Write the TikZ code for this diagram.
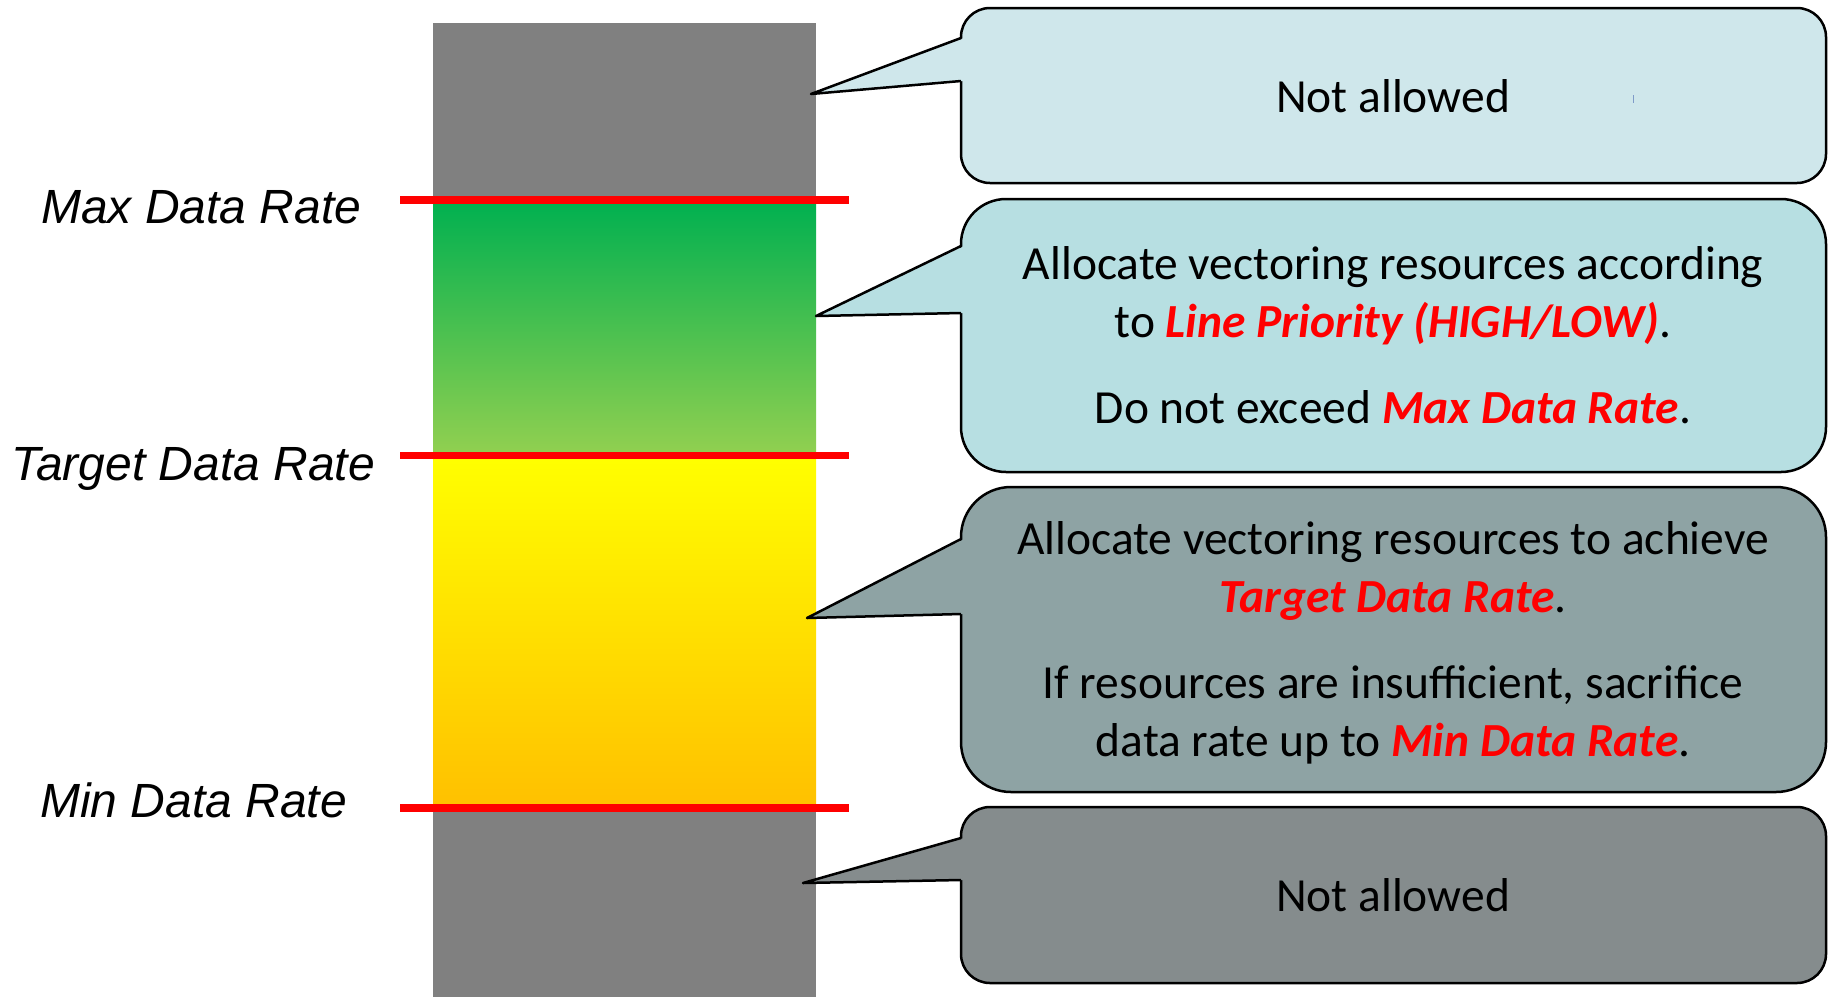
\documentclass[tikz,border=0pt]{standalone}
\usepackage{fontspec}
\setmainfont{Carlito}
\newfontfamily\labelfont{Liberation Sans}
\usetikzlibrary{calc}

\definecolor{zonegray}{HTML}{808080}
\definecolor{greentop}{HTML}{00B050}
\definecolor{greenbot}{HTML}{92D050}
\definecolor{yellowtop}{HTML}{FFFF00}
\definecolor{yellowbot}{HTML}{FFC000}
\definecolor{limitred}{HTML}{FF0000}
\definecolor{calloutA}{HTML}{CFE7EB}
\definecolor{calloutB}{HTML}{B7DFE2}
\definecolor{calloutC}{HTML}{8EA3A4}
\definecolor{calloutD}{HTML}{858C8D}
\definecolor{caretblue}{HTML}{7F9BC8}

\newcommand\hl[1]{\textcolor{limitred}{\bfseries\itshape #1}}

\tikzset{
  ratelabel/.style={font=\labelfont\itshape\fontsize{48}{57}\selectfont, inner sep=0pt, anchor=base west},
  limitline/.style={draw=limitred, line width=7.5pt},
  calloutbox/.style={draw=black, line width=2.5pt, inner sep=0pt},
  wedgeline/.style={draw=black, line width=2.5pt, line join=round},
  callouttext/.style={font=\fontsize{47.5}{58}\selectfont, inner sep=0pt, anchor=base}
}

\begin{document}
\begin{tikzpicture}[x=1pt,y=-1pt]
\useasboundingbox (0,0) rectangle (1831,997);

% --- data-rate bar ---
\fill[zonegray] (433,23) rectangle (816,200);
\shade[top color=greentop, bottom color=greenbot] (433,200) rectangle (816,455);
\shade[top color=yellowtop, bottom color=yellowbot] (433,455) rectangle (816,808);
\fill[zonegray] (433,808) rectangle (816,997);

% --- limit lines ---
\coordinate (maxL) at (400,200);    \coordinate (maxR) at (849,200);
\coordinate (tgtL) at (400,455.5);  \coordinate (tgtR) at (849,455.5);
\coordinate (minL) at (400,808);    \coordinate (minR) at (849,808);
\draw[limitline] (maxL) -- (maxR);
\draw[limitline] (tgtL) -- (tgtR);
\draw[limitline] (minL) -- (minR);

% --- limit labels ---
\node[ratelabel] (maxlbl) at (41,223) {Max Data Rate};
\node[ratelabel] (tgtlbl) at (11,480) {Target Data Rate};
\node[ratelabel] (minlbl) at (40,817) {Min Data Rate};

% --- callout bodies ---
\node[calloutbox, fill=calloutA, rounded corners=29pt, minimum width=865pt, minimum height=175pt] (box1) at (1393.5,95.5) {};
\node[calloutbox, fill=calloutB, rounded corners=45pt, minimum width=865pt, minimum height=273pt] (box2) at (1393.5,335.5) {};
\node[calloutbox, fill=calloutC, rounded corners=50pt, minimum width=865pt, minimum height=305pt] (box3) at (1393.5,639.5) {};
\node[calloutbox, fill=calloutD, rounded corners=29pt, minimum width=865pt, minimum height=176pt] (box4) at (1393.5,895) {};

% --- callout pointers ---
\coordinate (t1) at (811,94);  \coordinate (u1) at (961,38);  \coordinate (l1) at (961,81);
\coordinate (t2) at (816,316); \coordinate (u2) at (961,246); \coordinate (l2) at (961,313);
\coordinate (t3) at (807,618); \coordinate (u3) at (961,539); \coordinate (l3) at (961,614);
\coordinate (t4) at (803,883); \coordinate (u4) at (961,838); \coordinate (l4) at (961,880);

\fill[calloutA] (t1) -- ([xshift=3pt]u1) -- ([xshift=3pt]l1) -- cycle;
\fill[calloutB] (t2) -- ([xshift=3pt]u2) -- ([xshift=3pt]l2) -- cycle;
\fill[calloutC] (t3) -- ([xshift=3pt]u3) -- ([xshift=3pt]l3) -- cycle;
\fill[calloutD] (t4) -- ([xshift=3pt]u4) -- ([xshift=3pt]l4) -- cycle;
\draw[wedgeline] (u1) -- (t1) -- (l1);
\draw[wedgeline] (u2) -- (t2) -- (l2);
\draw[wedgeline] (u3) -- (t3) -- (l3);
\draw[wedgeline] (u4) -- (t4) -- (l4);

% --- callout texts ---
\node[callouttext] (txt1) at (1393,112) {Not allowed};
\draw[caretblue, line width=1pt] (1633,95) -- (1633,103);

\node[callouttext] (txt2a) at (1393,279) {Allocate vectoring resources according};
\node[callouttext] (txt2b) at (1393,337) {to \hl{Line Priority (HIGH/LOW)}.};
\node[callouttext] (txt2c) at (1393,423) {Do not exceed \hl{Max Data Rate}.};

\node[callouttext] (txt3a) at (1393,554) {Allocate vectoring resources to achieve};
\node[callouttext] (txt3b) at (1393,612) {\hl{Target Data Rate}.};
\node[callouttext] (txt3c) at (1393,698) {If resources are insufficient, sacrifice};
\node[callouttext] (txt3d) at (1393,756) {data rate up to \hl{Min Data Rate}.};

\node[callouttext] (txt4) at (1393,911) {Not allowed};
\end{tikzpicture}
\end{document}
